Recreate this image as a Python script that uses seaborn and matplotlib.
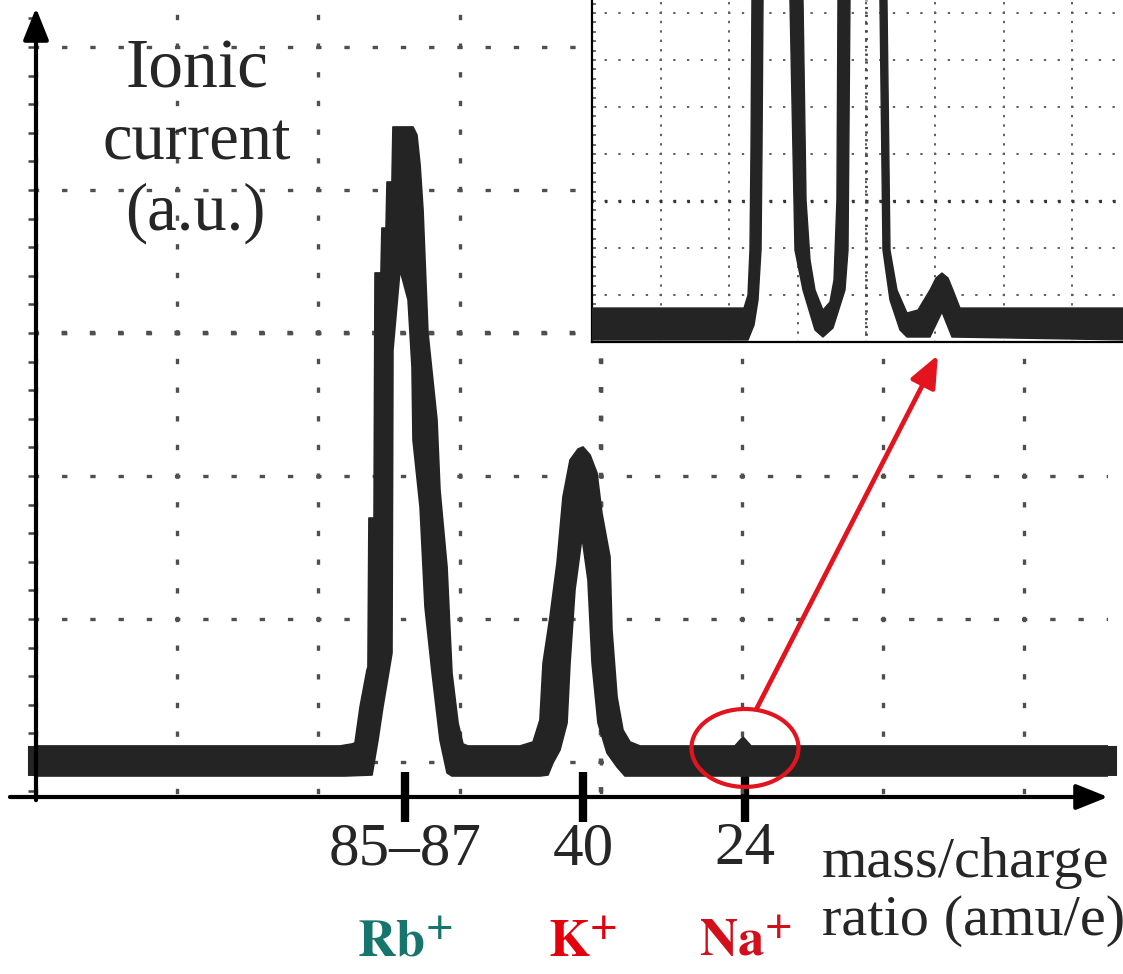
import matplotlib
matplotlib.use("Agg")
import matplotlib.pyplot as plt
import seaborn as sns
from matplotlib.patches import Ellipse
from matplotlib.ticker import MultipleLocator, FixedLocator
from matplotlib.transforms import blended_transform_factory

# ---------------- data (oscilloscope divisions, baseline = 0) ----------------
# Main trace: upper and lower edges of the thick scope trace
main_upper_x = [-0.057, 2.153, 2.238, 2.259, 2.295, 2.344, 2.351, 2.358, 2.394, 2.401,
                2.443, 2.450, 2.479, 2.486, 2.521, 2.528, 2.670, 2.698, 2.720, 2.741,
                2.776, 2.840, 2.861, 2.911, 2.946, 2.989, 3.024, 3.059,
                3.428, 3.520, 3.569, 3.591, 3.640, 3.690, 3.732, 3.782, 3.839, 3.874,
                3.924, 3.973, 4.008, 4.065, 4.079, 4.115, 4.157, 4.207, 4.278,
                4.950, 5.007, 5.064, 7.656]
main_upper_y = [0.112, 0.112, 0.126, 0.133, 0.385, 0.643, 0.664, 1.706, 1.706, 3.420,
                3.420, 3.734, 3.734, 4.056, 4.056, 4.441, 4.441, 4.385, 4.175, 3.860,
                3.000, 2.392, 1.902, 1.364, 0.622, 0.273, 0.126, 0.112,
                0.112, 0.140, 0.294, 0.692, 1.014, 1.392, 1.853, 2.112, 2.189, 2.203,
                2.147, 2.021, 1.741, 1.434, 0.923, 0.455, 0.224, 0.140, 0.112,
                0.112, 0.175, 0.112, 0.112]
main_lower_x = [-0.057, 2.188, 2.380, 2.422, 2.457, 2.507, 2.521, 2.528, 2.578, 2.635,
                2.663, 2.670, 2.720, 2.755, 2.805, 2.861, 2.911, 2.946,
                3.569, 3.626, 3.661, 3.711, 3.761, 3.782, 3.817, 3.867, 3.909, 3.938,
                3.980, 4.044, 4.115, 4.171, 7.656]
main_lower_y = [-0.098, -0.098, -0.091, 0.154, 0.385, 0.678, 0.762, 2.881, 3.441, 3.231,
                2.762, 2.252, 1.783, 1.084, 0.622, 0.154, -0.077, -0.098,
                -0.098, -0.091, -0.007, 0.084, 0.273, 0.692, 1.203, 1.573, 1.273, 0.692,
                0.273, 0.063, -0.035, -0.098, -0.098]

# Inset (higher vertical gain, own divisions)
inset_upper_x = [0.000, 2.216, 2.274, 2.303, 2.318, 2.332, 2.711, 3.076, 3.120, 3.178,
                 3.251, 3.367, 3.469, 3.528, 3.571, 3.586, 3.936, 4.300, 4.344, 4.446,
                 4.592, 4.752, 4.927, 5.015, 5.102, 5.190, 5.262, 5.364, 7.843]
inset_upper_y = [0.723, 0.723, 1.000, 1.957, 4.085, 7.277, 15.79, 7.277, 3.021, 1.745,
                 1.106, 0.681, 0.851, 1.319, 3.021, 7.277, 14.72, 7.277, 1.957, 1.106,
                 0.617, 0.681, 1.106, 1.362, 1.468, 1.362, 1.106, 0.723, 0.723]
inset_lower_x = [0.000, 2.274, 2.362, 2.420, 2.464, 2.478, 2.493, 2.682, 2.886, 2.959,
                 3.076, 3.251, 3.367, 3.513, 3.688, 3.732, 3.761, 3.980, 4.198, 4.242,
                 4.344, 4.490, 4.592, 4.927, 5.102, 5.248, 7.843]
inset_lower_y = [0.043, 0.043, 0.362, 0.894, 1.957, 4.085, 7.277, 12.60, 7.277, 1.957,
                 1.106, 0.255, 0.106, 0.298, 1.106, 1.957, 7.277, 13.66, 7.277, 1.957,
                 0.894, 0.255, 0.106, 0.106, 0.638, 0.106, 0.043]

peak_x = [2.613, 3.874, 5.021]                 # Rb, K, Na positions on main trace
mass_labels = ["85\u201387", "40", "24"]
ion_labels = [r"$\mathbf{Rb^{+}}$", r"$\mathbf{K^{+}}$", r"$\mathbf{Na^{+}}$"]
ion_colors = ["#16766e", "#e5000e", "#d2101c"]
inset_na_x = 5.102                              # Na bump position in the inset

# ---------------- style ----------------
sns.set_theme(style="white")
plt.rcParams["font.family"] = ["Liberation Serif", "DejaVu Serif"]
plt.rcParams["mathtext.fontset"] = "stix"

W, H = 1123, 974
fig = plt.figure(figsize=(W / 100, H / 100), dpi=100)
fig.patch.set_facecolor("white")

TRACE = "#242424"
RED = "#e3141e"
GRID = "#4f4f4f"

# ---------------- main axes ----------------
ax = fig.add_axes([36 / W, 1 - 797 / H, 1072 / W, 789 / H])
ax.set_facecolor("white")
ax.set_xlim(0, 7.592)
ax.set_ylim(-0.245, 5.273)
for s in ax.spines.values():
    s.set_visible(False)

# oscilloscope grid
ax.xaxis.set_minor_locator(MultipleLocator(1))
ax.yaxis.set_major_locator(MultipleLocator(1))
ax.yaxis.set_minor_locator(MultipleLocator(0.2))
ax.xaxis.grid(True, which="minor", color=GRID, lw=2.4, linestyle=(7.6, (1.6, 7.0)))
ax.xaxis.grid(False, which="major")
ax.yaxis.grid(True, which="major", color=GRID, lw=2.4, linestyle=(0.8, (1.6, 6.87)))
ax.axhline(3, color=GRID, lw=3.2, linestyle=(0.6, (1.2, 5.15)), zorder=1)
ax.axvline(4, color=GRID, lw=3.2, linestyle=(5.4, (1.2, 5.23)), zorder=1)

# trace
poly_x = main_upper_x + main_lower_x[::-1]
poly_y = main_upper_y + main_lower_y[::-1]
ax.fill(poly_x, poly_y, color=TRACE, lw=0, clip_on=False, zorder=3)
sns.lineplot(x=main_upper_x, y=main_upper_y, sort=False, estimator=None,
             color=TRACE, lw=1.2, ax=ax, zorder=3)
sns.lineplot(x=main_lower_x, y=main_lower_y, sort=False, estimator=None,
             color=TRACE, lw=1.2, ax=ax, zorder=3)

# ticks
ax.xaxis.set_major_locator(FixedLocator(peak_x))
ax.set_xticklabels(mass_labels)
ax.tick_params(axis="x", which="major", direction="inout", length=36, width=6,
               color="black", labelsize=44, pad=0, bottom=True)
ax.tick_params(axis="x", which="minor", length=0)
ax.tick_params(axis="y", which="both", left=True, direction="out", length=6,
               width=1.8, color="#444444", labelleft=False)
ax.set_xlabel("")
ax.set_ylabel("")

# axis arrows
arrow_kw = dict(arrowstyle="-|>,head_length=0.75,head_width=0.3", color="black",
                lw=3, mutation_scale=26, shrinkA=0, shrinkB=0)
ax.annotate("", xy=(0, 1.0), xycoords="axes fraction", xytext=(0, -0.004),
            textcoords="axes fraction", arrowprops=arrow_kw, annotation_clip=False, zorder=5)
ax.annotate("", xy=(1.0, 0), xycoords="axes fraction", xytext=(-0.0243, 0),
            textcoords="axes fraction", arrowprops=arrow_kw, annotation_clip=False, zorder=5)

# ion labels under tick labels
tr = blended_transform_factory(ax.transData, fig.transFigure)
for xp, lab, col in zip(peak_x, ion_labels, ion_colors):
    ax.text(xp, 1 - 957 / H, lab, transform=tr, ha="center", va="baseline",
            fontsize=38, color=col)

# red ellipse around Na
ax.add_patch(Ellipse((peak_x[2], 0.098), 0.758, 0.545, fill=False, ec=RED,
                     lw=3.0, zorder=6, clip_on=False))

# ---------------- inset ----------------
axins = fig.add_axes([592 / W, 1 - 342 / H, 531 / W, 342 / H])
axins.set_facecolor("white")
axins.set_xlim(0, 7.741)
axins.set_ylim(0, 7.277)
for k in ["top", "right"]:
    axins.spines[k].set_visible(False)
for k in ["left", "bottom"]:
    axins.spines[k].set_color("black")
    axins.spines[k].set_linewidth(1.6)
axins.xaxis.set_major_locator(MultipleLocator(1))
axins.yaxis.set_major_locator(MultipleLocator(1))
axins.yaxis.set_minor_locator(MultipleLocator(0.2))
axins.tick_params(axis="both", which="both", labelleft=False, labelbottom=False,
                  bottom=False)
axins.tick_params(axis="y", which="both", left=True, direction="in", length=3,
                  width=1.2, color="#555555")
axins.xaxis.grid(True, which="major", color="#5e5e5e", lw=1.4, linestyle=(0.6, (1.2, 3.64)))
axins.yaxis.grid(True, which="major", color="#5e5e5e", lw=1.4, linestyle=(0.6, (1.2, 5.86)))
axins.axhline(3, color="#333333", lw=2.4, linestyle=(0.4, (0.8, 3.32)), zorder=1)
axins.axvline(4, color="#444444", lw=2.0, linestyle=(0.4, (0.8, 2.0)), zorder=1)

ipx = inset_upper_x + inset_lower_x[::-1]
ipy = inset_upper_y + inset_lower_y[::-1]
axins.fill(ipx, ipy, color=TRACE, lw=0, zorder=3)
sns.lineplot(x=inset_upper_x, y=inset_upper_y, sort=False, estimator=None,
             color=TRACE, lw=1.0, ax=axins, zorder=3)
sns.lineplot(x=inset_lower_x, y=inset_lower_y, sort=False, estimator=None,
             color=TRACE, lw=1.0, ax=axins, zorder=3)
axins.set_xlabel("")
axins.set_ylabel("")

# red arrow from the Na ellipse to the inset Na bump
ax.annotate("", xy=(inset_na_x - 0.06, -0.28), xycoords=axins.transData,
            xytext=(peak_x[2] + 0.085, 0.378), textcoords="data",
            arrowprops=dict(arrowstyle="-|>,head_length=0.8,head_width=0.34",
                            color=RED, lw=3.4, mutation_scale=24, shrinkA=0, shrinkB=0),
            annotation_clip=False, zorder=7)

# ---------------- texts ----------------
fig.text(197 / W, 1 - 88 / H, "Ionic", ha="center", va="baseline", fontsize=50)
fig.text(197 / W, 1 - 160 / H, "current", ha="center", va="baseline", fontsize=48)
fig.text(195 / W, 1 - 230 / H, "(a.u.)", ha="center", va="baseline", fontsize=48)
fig.text(822 / W, 1 - 877 / H, "mass/charge", ha="left", va="baseline", fontsize=42)
fig.text(822 / W, 1 - 935 / H, "ratio (amu/e)", ha="left", va="baseline", fontsize=42)

fig.savefig("out.png", dpi=100, facecolor="white")
